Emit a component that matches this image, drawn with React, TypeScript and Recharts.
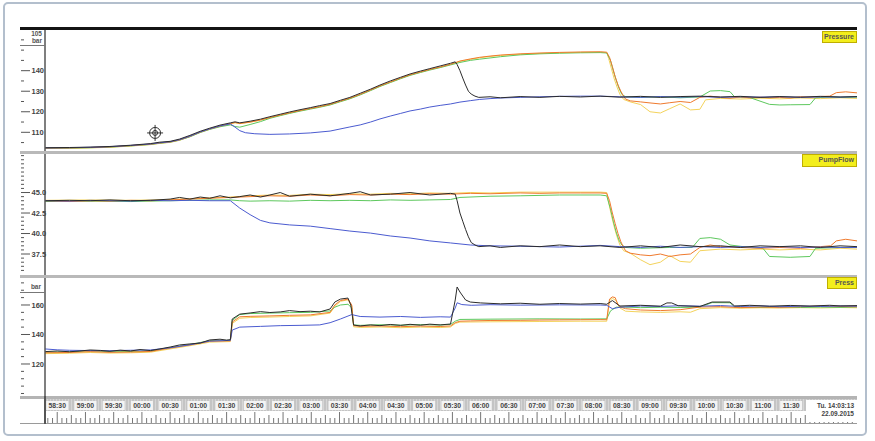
import React from 'react';
import { LineChart, Line, XAxis, YAxis, ReferenceDot } from 'recharts';

type P = [number, number];

// time in seconds after 13:58:00
const T_DOMAIN: [number, number] = [17, 880];
const timeTicks = [30, 60, 90, 120, 150, 180, 210, 240, 270, 300, 330, 360, 390, 420, 450, 480, 510, 540, 570, 600, 630, 660, 690, 720, 750, 780, 810];
const timeLabels = ['58:30', '59:00', '59:30', '00:00', '00:30', '01:00', '01:30', '02:00', '02:30', '03:00', '03:30', '04:00', '04:30', '05:00', '05:30', '06:00', '06:30', '07:00', '07:30', '08:00', '08:30', '09:00', '09:30', '10:00', '10:30', '11:00', '11:30'];

// Panel 1 — Pressure (bar)
const p1Major = [140, 130, 120, 110];
const p1Minor = [155, 150, 145, 135, 125, 115, 105];
const p1Orange: P[] = [[17,102.3],[43,102.4],[65,102.6],[86,102.9],[108,103.5],[129,104.2],[139,104.8],[150,105.3],[160,106.3],[171,108],[182,110.1],[192,111.6],[203,113],[214,114.2],[219,114.8],[224,114.3],[235,115],[246,116],[256,117.2],[267,118.4],[277,119.5],[288,120.6],[299,121.6],[309,122.5],[320,123.6],[331,125.2],[341,126.6],[352,128.5],[363,130.6],[373,132.6],[384,134.5],[395,136.4],[405,138],[416,139.4],[426,140.6],[437,141.8],[448,143.1],[458,144.7],[469,145.7],[479,146.5],[490,147.1],[501,147.6],[522,148.2],[543,148.6],[564,148.9],[586,149.1],[607,149.2],[614,149],[617,146.5],[620,142],[623,137],[626,133],[629,130],[632,127.5],[634,126.2],[639,125.3],[650,124.8],[660,124.3],[671,123.8],[681,124.4],[692,125],[703,124.5],[713,127],[724,127.6],[735,127],[745,126.6],[756,127.2],[766,126.8],[777,127.1],[787,126.8],[798,127],[809,126.7],[820,127.3],[830,127.1],[841,127.4],[851,127.6],[858,129.3],[868,129.7],[880,129.2]];
const p1Black: P[] = [[17,102.5],[43,102.6],[65,102.8],[86,103.1],[108,103.7],[129,104.5],[139,105.2],[150,105.6],[160,106.7],[171,108.5],[182,110.5],[192,112],[203,113.5],[214,114.6],[219,115.1],[224,114.6],[235,115.4],[246,116.4],[256,117.6],[267,118.8],[277,119.9],[288,121],[299,122],[309,123],[320,124],[331,125.6],[341,127],[352,129],[363,131],[373,133],[384,135],[395,136.8],[405,138.4],[416,139.8],[426,141],[437,142.3],[448,143.6],[453,144.3],[455,143],[458,140],[461,136.4],[464,133],[467,130],[470,128.6],[474,127.6],[478,127],[490,127.3],[501,126.8],[522,127.4],[543,127],[564,127.5],[586,127.2],[607,127.6],[628,127.1],[650,127.5],[671,127],[692,127.4],[713,127.6],[735,127.2],[756,127.5],[777,127],[798,127.4],[820,127.1],[841,127.5],[862,127.2],[880,127.4]];
const p1Green: P[] = [[17,102.2],[43,102.3],[65,102.5],[86,102.8],[108,103.4],[129,104.1],[139,104.7],[150,105.2],[160,106.2],[171,107.8],[182,109.9],[192,111.4],[203,112.7],[214,113.6],[219,112.8],[224,112.5],[235,113.8],[246,115.2],[256,116.8],[267,118.1],[277,119.2],[288,120.3],[299,121.3],[309,122.2],[320,123.3],[331,124.9],[341,126.3],[352,128.2],[363,130.3],[373,132.3],[384,134.2],[395,136.1],[405,137.7],[416,139.1],[426,140.3],[437,141.5],[448,142.8],[458,144],[469,145],[479,145.6],[490,146.2],[501,146.8],[522,147.7],[543,148.2],[564,148.5],[586,148.7],[607,148.8],[614,148.6],[618,145],[621,140],[624,135.5],[627,131.5],[630,128.5],[634,127.3],[650,127],[671,127.3],[692,126.8],[713,127.2],[724,130.1],[735,130.3],[745,129.8],[750,127.2],[766,126.9],[787,123.6],[798,123.3],[809,123.4],[830,123.5],[836,126.8],[851,127.2],[862,127],[880,127.1]];
const p1Yellow: P[] = [[17,102.1],[43,102.2],[65,102.4],[86,102.7],[108,103.3],[129,104],[139,104.6],[150,105.1],[160,106.1],[171,107.9],[182,110],[192,111.5],[203,112.9],[214,114.1],[219,114.6],[224,114.2],[235,114.9],[246,115.9],[256,117.1],[267,118.3],[277,119.4],[288,120.5],[299,121.5],[309,122.4],[320,123.5],[331,125.1],[341,126.5],[352,128.4],[363,130.5],[373,132.5],[384,134.4],[395,136.3],[405,137.9],[416,139.3],[426,140.5],[437,141.7],[448,143],[458,144.5],[469,145.5],[479,146.3],[490,146.9],[501,147.4],[522,148],[543,148.4],[564,148.7],[586,148.9],[607,149],[614,148.8],[616,146],[619,141],[622,136],[625,132],[628,128.5],[632,126],[639,124.8],[650,123.5],[660,120],[671,119.4],[681,121.5],[692,123.8],[703,120.9],[713,121.2],[719,125.8],[735,126.5],[756,126.2],[777,126.6],[798,126.3],[820,126.7],[841,126.4],[862,126.8],[880,126.5]];
const p1Blue: P[] = [[17,102.4],[43,102.5],[65,102.7],[86,103],[108,103.6],[129,104.3],[139,104.9],[150,105.4],[160,106.4],[171,108.1],[182,110.2],[192,111.7],[203,113.1],[214,114.1],[219,112.5],[224,110.8],[230,109.8],[240,109.3],[256,109],[277,109.2],[299,109.7],[320,110.6],[341,112.6],[352,113.6],[363,115],[373,116.5],[384,117.9],[395,119.2],[405,120.4],[416,121.3],[426,122.3],[437,123.1],[448,123.8],[458,124.7],[469,125.4],[479,126],[490,126.4],[501,126.7],[522,127],[543,127.3],[564,127.5],[586,127.6],[607,127.6],[628,127.3],[650,127],[671,127.4],[692,127.1],[713,127.4],[735,127],[756,127.3],[777,127.1],[798,127.3],[820,127],[841,127.2],[862,127.1],[880,127.3]];

// Panel 2 — PumpFlow
const p2Major = [45, 42.5, 40, 37.5];
const p2Minor = [49.5, 49, 48.5, 48, 47.5, 47, 46.5, 46, 45.5, 44.5, 44, 43.5, 43, 42, 41.5, 41, 40.5, 39.5, 39, 38.5, 38, 37, 36.5, 36, 35.5];
const p2Orange: P[] = [[17,44],[43,43.9],[65,44],[86,43.95],[108,44.05],[129,44],[150,44.1],[171,44.2],[192,44.3],[214,44.4],[235,44.5],[256,44.6],[277,44.55],[299,44.7],[320,44.6],[341,44.75],[363,44.7],[384,44.8],[405,44.75],[426,44.85],[448,44.8],[469,44.9],[490,44.85],[522,44.95],[543,44.9],[564,44.95],[586,44.95],[607,44.95],[614,44.9],[617,44],[620,42.5],[623,41.2],[626,40],[629,39],[632,38.3],[634,37.9],[639,37.6],[650,37.4],[660,37.3],[671,37.5],[681,37.2],[692,37.4],[703,37.5],[713,38.3],[724,38.6],[735,38.4],[756,38.3],[777,38.2],[798,38.3],[820,38.2],[841,38.4],[852,38.5],[858,39.1],[868,39.3],[880,39.1]];
const p2Black: P[] = [[17,44],[43,44.05],[65,44],[86,44.1],[108,44.0],[129,44.05],[150,44.2],[160,44.4],[171,44.2],[182,44.45],[192,44.3],[203,44.6],[214,44.35],[224,44.5],[235,44.7],[246,44.45],[256,44.7],[267,45.0],[277,44.55],[299,44.8],[320,44.6],[341,44.9],[352,45.1],[363,44.7],[384,44.8],[405,45.0],[426,44.7],[448,44.9],[453,44.8],[455,44],[458,42.5],[461,41.5],[464,40.5],[467,39.6],[470,38.9],[474,38.6],[478,38.4],[490,38.5],[501,38.3],[522,38.5],[543,38.4],[564,38.6],[586,38.4],[607,38.5],[628,38.3],[650,38.5],[671,38.3],[692,38.6],[713,38.4],[735,38.5],[756,38.3],[777,38.5],[798,38.4],[820,38.5],[841,38.3],[862,38.5],[880,38.4]];
const p2Green: P[] = [[17,43.9],[65,43.95],[108,43.9],[150,44],[192,44.1],[214,44.1],[224,44.0],[235,43.95],[256,44.0],[277,43.95],[299,44.05],[320,44.0],[341,44.05],[363,44.0],[384,44.1],[405,44.05],[426,44.1],[448,44.15],[458,44.4],[490,44.55],[522,44.6],[564,44.7],[607,44.7],[614,44.6],[618,43],[621,41.5],[624,40.2],[627,39.2],[630,38.6],[634,38.3],[650,38.2],[681,38.3],[705,38.3],[713,39.4],[724,39.5],[735,39.3],[745,38.6],[766,38.3],[780,38.2],[787,37.2],[809,37.1],[830,37.2],[836,38.2],[862,38.3],[880,38.3]];
const p2Yellow: P[] = [[17,44.05],[65,44.1],[108,44.05],[150,44.15],[192,44.35],[214,44.45],[235,44.6],[256,44.7],[277,44.65],[299,44.8],[320,44.75],[341,44.85],[363,44.8],[384,44.9],[405,44.85],[426,44.95],[448,44.9],[469,45],[490,44.95],[522,45.05],[564,45.05],[607,45.05],[614,45],[616,43.8],[619,42.2],[622,40.8],[625,39.6],[628,38.6],[632,37.9],[639,37.6],[650,36.8],[660,36.2],[671,36.5],[681,37.3],[692,36.6],[703,36.5],[713,37.9],[735,38.1],[756,38],[777,38.1],[798,38],[820,38.1],[841,38],[862,38.2],[880,38.1]];
const p2Blue: P[] = [[17,44],[43,43.95],[65,44.05],[86,44],[108,43.95],[129,44.05],[150,44],[171,44.05],[192,44],[214,44],[224,43.1],[235,42.3],[246,41.6],[256,41.3],[277,41.05],[299,40.9],[320,40.6],[341,40.3],[363,40.05],[384,39.7],[405,39.45],[426,39.1],[448,38.85],[469,38.6],[490,38.5],[522,38.45],[564,38.35],[607,38.55],[628,38.4],[650,38.3],[671,38.45],[692,38.3],[713,38.4],[735,38.3],[756,38.4],[777,38.3],[798,38.4],[820,38.3],[841,38.35],[862,38.3],[880,38.3]];

// Panel 3 — Press (bar)
const p3Major = [160, 140, 120];
const p3Minor = [175, 170, 165, 155, 150, 145, 135, 130, 125, 115, 110, 105, 100];
const p3Black: P[] = [[17,128.4],[30,128.8],[43,128.3],[54,128.8],[65,129.5],[76,129.2],[86,128.6],[97,129.4],[108,128.8],[118,129.8],[129,129.1],[139,130.2],[150,131.5],[160,132.9],[171,133.6],[182,134.2],[192,136.3],[203,136.8],[210,136.2],[214,136.5],[216,150.5],[224,153.8],[235,154.6],[246,155.5],[256,154.9],[267,155.3],[277,156.2],[288,155.5],[299,155.8],[309,155.3],[320,157.3],[325,162],[331,164],[339,164.7],[342,160],[345,146.4],[352,145.8],[363,146.5],[373,146],[384,146.8],[395,146.2],[405,146.9],[416,146.3],[426,147],[437,146.5],[448,147.1],[453,163.4],[455,172.2],[458,168.8],[464,163.4],[469,162],[480,161.4],[501,160.8],[522,161.2],[543,160.5],[564,161],[586,160.6],[607,161],[614,160.5],[620,163],[628,159.3],[650,159.8],[671,159.2],[678,161.4],[683,161.4],[690,159.5],[713,159],[726,162],[745,162],[750,159.3],[766,159.8],[787,159.2],[809,159.7],[830,159.3],[851,159.8],[862,159.4],[880,159.6]];
const p3Orange: P[] = [[17,127.6],[43,127.8],[65,128.4],[86,127.9],[108,128.1],[129,128.5],[150,130.8],[171,132.9],[192,135.4],[214,135.7],[216,148.5],[224,152],[235,152.3],[256,152.6],[277,153],[299,153.3],[320,155],[325,160],[331,163],[339,164],[343,160],[345,146],[352,145.5],[373,145.8],[395,145.3],[416,145.7],[437,145.4],[448,145.8],[453,148],[458,149],[469,149.2],[490,149.5],[522,149.6],[543,149.8],[564,149.9],[586,150],[607,150.1],[614,150],[617,164],[620,165.5],[623,165],[626,160],[629,158.5],[634,157.5],[650,156.6],[671,156.2],[692,156.8],[713,158.6],[735,158.9],[756,158.2],[777,158.6],[798,158.4],[820,158.8],[841,159.3],[862,159],[880,158.8]];
const p3Yellow: P[] = [[17,127],[43,127.3],[65,127.8],[86,127.4],[108,127.6],[129,128],[150,130.2],[171,132.4],[192,134.8],[214,135.2],[216,147.5],[224,151],[235,151.5],[256,151.8],[277,152.2],[299,152.6],[320,154.5],[325,159],[331,162.5],[339,163.5],[343,159],[345,145.2],[352,144.8],[373,145.1],[395,144.6],[416,145],[437,144.7],[448,145.1],[453,147.5],[458,148.4],[490,148.6],[543,148.8],[586,149],[614,149],[617,163],[620,164.5],[624,163],[628,158],[634,155.8],[650,155.3],[671,155],[692,155.4],[703,155.1],[713,157.5],[735,158.2],[756,157.8],[777,158.1],[798,157.9],[820,158.2],[841,158],[862,158.3],[880,158.1]];
const p3Green: P[] = [[17,128],[43,128.2],[65,128.9],[86,128.3],[108,128.5],[129,128.8],[150,131.1],[171,133.2],[192,135.8],[214,136],[216,149.5],[224,153.5],[235,154.2],[256,154.5],[277,154.8],[299,155],[320,156],[325,158.5],[331,160],[339,160.5],[343,158],[345,146.5],[352,146.2],[373,146.6],[395,146.3],[416,146.7],[437,146.4],[448,146.8],[453,149],[458,150.2],[490,150.4],[543,150.6],[586,150.5],[614,150.6],[618,156],[624,158.5],[634,158.6],[650,158.2],[671,158.5],[692,158.3],[713,158.6],[726,161.6],[745,161.5],[750,158.5],[777,158.4],[798,158.7],[820,158.3],[841,158.6],[862,158.4],[880,158.7]];
const p3Blue: P[] = [[17,130.2],[30,129.6],[43,129.3],[65,129.1],[86,129],[108,129.3],[129,129.5],[150,131],[171,133],[192,135.5],[214,136],[216,143],[224,145],[246,145.5],[267,146],[288,146.2],[309,146.5],[320,148],[331,150.5],[339,152.5],[343,153.5],[352,152.2],[373,151.8],[395,152.2],[416,151.6],[437,152],[448,151.8],[453,158],[455,161.5],[460,160.3],[470,159.8],[490,160.2],[522,159.9],[564,160.1],[607,160],[614,159.8],[620,157.5],[628,158.5],[650,159.3],[671,159],[692,159.5],[713,159.2],[735,159.6],[756,159],[777,159.4],[798,158.8],[820,159.2],[841,159],[862,159.3],[880,159.2]];

// cursor marker position in panel 1
const cursorT = 134;
const cursorV = 109.7;

const COLORS = {
  black: '#2c2c2c',
  blue: '#4b5bd0',
  green: '#5ec85e',
  orange: '#ef7a2e',
  yellow: '#f4d35c',
};

const FONT = '"Liberation Sans", Arial, sans-serif';

const rows = (pts: P[]) => pts.map(([t, v]) => ({ t, v }));

const makeYTick = (major: number[], fmt: (v: number) => string) => (props: any) => {
  const { y, payload } = props;
  const isMajor = major.includes(payload.value);
  return (
    <g>
      <line x1={1} x2={isMajor ? 10 : 4} y1={y} y2={y} stroke="#555" strokeWidth={1} />
      {isMajor && (
        <text x={11.5} y={y + 2.6} fontSize={7.5} fontWeight="bold" fill="#444" fontFamily={FONT}>
          {fmt(payload.value)}
        </text>
      )}
    </g>
  );
};

const timeMinor: number[] = [];
for (let t = 20; t <= 875; t += 5) timeMinor.push(t);

const TimeTick = (props: any) => {
  const { x, y, payload } = props;
  const v = payload.value;
  const idx = timeTicks.indexOf(v);
  const isLabel = idx >= 0;
  const isHalf = v % 15 === 0;
  return (
    <g>
      {isLabel && <rect x={x - 11} y={y + 5} width={22} height={9} fill="#f4f4f4" />}
      {isLabel && (
        <text x={x} y={y + 12.3} textAnchor="middle" fontSize={6.8} fontWeight="bold" fill="#444" fontFamily={FONT}>
          {timeLabels[idx]}
        </text>
      )}
      <line x1={x} x2={x} y1={y + (isLabel ? 16 : isHalf ? 19 : 22)} y2={y + 27} stroke="#666" strokeWidth={0.9} />
    </g>
  );
};

const Cursor = (props: any) => {
  const { cx, cy } = props;
  return (
    <g stroke="#333" fill="none" strokeWidth={1}>
      <circle cx={cx} cy={cy} r={5.5} />
      <circle cx={cx} cy={cy} r={2.5} />
      <line x1={cx - 8} x2={cx + 8} y1={cy} y2={cy} />
      <line x1={cx} x2={cx} y1={cy - 8} y2={cy + 8} />
    </g>
  );
};

const lineProps = { dot: false, isAnimationActive: false, strokeWidth: 1, type: 'linear' as const, dataKey: 'v' };

const renderLines = (prefix: string, d: { black: P[]; blue: P[]; green: P[]; orange: P[]; yellow: P[] }) => [
  <Line key={prefix + 'y'} {...lineProps} data={rows(d.yellow)} stroke={COLORS.yellow} />,
  <Line key={prefix + 'g'} {...lineProps} data={rows(d.green)} stroke={COLORS.green} />,
  <Line key={prefix + 'o'} {...lineProps} data={rows(d.orange)} stroke={COLORS.orange} />,
  <Line key={prefix + 'b'} {...lineProps} data={rows(d.blue)} stroke={COLORS.blue} />,
  <Line key={prefix + 'k'} {...lineProps} data={rows(d.black)} stroke={COLORS.black} />,
];

const abs = (left: number, top: number, width: number, height: number, extra: React.CSSProperties = {}): React.CSSProperties => ({
  position: 'absolute', left, top, width, height, ...extra,
});

const tagStyle: React.CSSProperties = {
  background: '#f3ee1c',
  border: '1px solid #bfae00',
  boxSizing: 'border-box',
  fontFamily: FONT,
  fontSize: 7,
  fontWeight: 'bold',
  color: '#555',
  lineHeight: '10px',
  textAlign: 'right',
  paddingRight: 2,
  overflow: 'hidden',
  whiteSpace: 'nowrap',
};

export default function App() {
  const W = 837;
  return (
    <div style={{ position: 'absolute', left: 0, top: 0, width: 875, height: 441, background: '#fff', overflow: 'hidden' }}>
      <div style={abs(3, 2, 864, 434, { border: '2px solid #b3bfcd', borderRadius: 5, boxSizing: 'border-box' })} />
      {/* top black bar */}
      <div style={abs(20, 27, W, 3, { background: '#141414' })} />

      {/* Panel 1 */}
      <div style={abs(20, 30, W, 121)}>
        <LineChart width={W} height={121} margin={{ top: 0, right: 0, bottom: 0, left: 0 }}>
          <XAxis type="number" dataKey="t" domain={T_DOMAIN} allowDataOverflow hide />
          <YAxis type="number" domain={[100.9, 159.8]} allowDataOverflow width={25} ticks={[...p1Major, ...p1Minor]} interval={0}
            tick={makeYTick(p1Major, (v) => String(v))} tickLine={false} tickSize={0} axisLine={{ stroke: '#555', strokeWidth: 1.5 }} />
          {renderLines('p1', { black: p1Black, blue: p1Blue, green: p1Green, orange: p1Orange, yellow: p1Yellow })}
          <ReferenceDot x={cursorT} y={cursorV} r={6} shape={Cursor} ifOverflow="visible" />
        </LineChart>
      </div>
      <div style={abs(20, 151, W, 3, { background: '#b9b9b9' })} />

      {/* Panel 2 */}
      <div style={abs(20, 154, W, 121)}>
        <LineChart width={W} height={121} margin={{ top: 0, right: 0, bottom: 0, left: 0 }}>
          <XAxis type="number" dataKey="t" domain={T_DOMAIN} allowDataOverflow hide />
          <YAxis type="number" domain={[34.94, 49.7]} allowDataOverflow width={25} ticks={[...p2Major, ...p2Minor]} interval={0}
            tick={makeYTick(p2Major, (v) => v.toFixed(1))} tickLine={false} tickSize={0} axisLine={{ stroke: '#555', strokeWidth: 1.5 }} />
          {renderLines('p2', { black: p2Black, blue: p2Blue, green: p2Green, orange: p2Orange, yellow: p2Yellow })}
        </LineChart>
      </div>
      <div style={abs(20, 275, W, 3, { background: '#b9b9b9' })} />

      {/* time axis background strips */}
      <div style={abs(20, 396, W, 3, { background: '#b4b4b4' })} />
      <div style={abs(45, 399, W - 25, 12, { background: 'repeating-linear-gradient(90deg, #c4c4c4 0px, #c4c4c4 2px, #d6d6d6 2px, #d6d6d6 3px)' })} />
      <div style={abs(20, 423, W, 1, { background: '#9a9a9a' })} />
      <div style={abs(44, 396, 2, 28, { background: '#555' })} />

      {/* Panel 3 + time axis */}
      <div style={abs(20, 278, W, 146)}>
        <LineChart width={W} height={146} margin={{ top: 0, right: 0, bottom: 0, left: 0 }}>
          <XAxis type="number" dataKey="t" domain={T_DOMAIN} allowDataOverflow height={28} ticks={[...timeMinor]} interval={0}
            tick={TimeTick} tickLine={false} tickSize={0} tickMargin={0} axisLine={false} />
          <YAxis type="number" domain={[98.3, 178.3]} allowDataOverflow width={25} ticks={[...p3Major, ...p3Minor]} interval={0}
            tick={makeYTick(p3Major, (v) => String(v))} tickLine={false} tickSize={0} axisLine={{ stroke: '#555', strokeWidth: 1.5 }} />
          {renderLines('p3', { black: p3Black, blue: p3Blue, green: p3Green, orange: p3Orange, yellow: p3Yellow })}
        </LineChart>
      </div>

      {/* unit labels */}
      <div style={abs(20, 30, 25, 16, { fontFamily: FONT, fontSize: 6.5, fontWeight: 'bold', color: '#555', textAlign: 'right', lineHeight: '7px', borderBottom: '1px solid #777', boxSizing: 'border-box', paddingRight: 3 })}>
        105<br />bar
      </div>
      <div style={abs(20, 283, 25, 10, { fontFamily: FONT, fontSize: 6.5, fontWeight: 'bold', color: '#555', textAlign: 'right', lineHeight: '8px', borderBottom: '1px solid #777', boxSizing: 'border-box', paddingRight: 4 })}>
        bar
      </div>

      {/* series tags */}
      <div style={{ ...abs(822, 31, 35, 12), ...tagStyle }}>Pressure</div>
      <div style={{ ...abs(802, 154, 55, 13), ...tagStyle }}>PumpFlow</div>
      <div style={{ ...abs(827, 277, 30, 12), ...tagStyle }}>Press</div>

      {/* date box */}
      <div style={abs(806, 400, 51, 22, { background: '#fff', fontFamily: FONT, fontSize: 6.5, fontWeight: 'bold', color: '#444', textAlign: 'right', lineHeight: '8px', paddingTop: 2, boxSizing: 'border-box', paddingRight: 3 })}>
        Tu. 14:03:13<br />22.09.2015
      </div>
    </div>
  );
}
